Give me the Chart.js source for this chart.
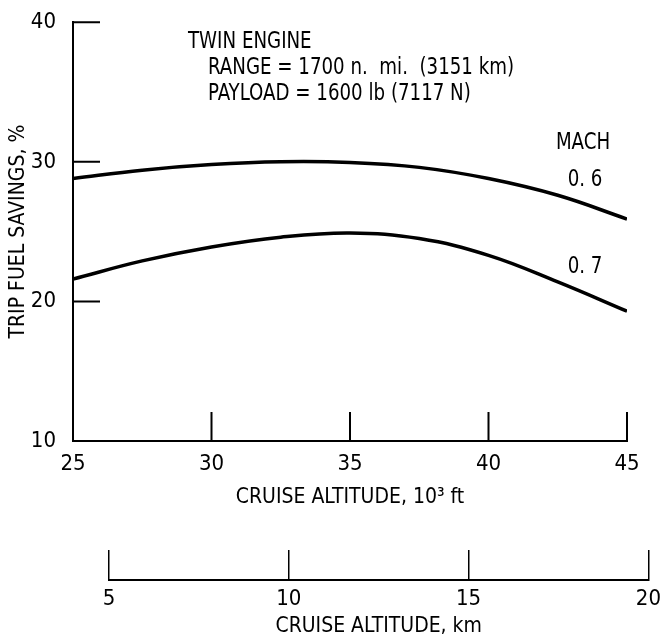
<!DOCTYPE html>
<html>
<head>
<meta charset="utf-8">
<script src="https://cdn.jsdelivr.net/npm/chart.js@4"></script>
<style>
  body { margin: 0; background: #fff; }
  #wrap { position: relative; width: 667px; height: 639px; }
  #mainBox { position: absolute; left: 0; top: 0; width: 667px; height: 530px; }
  #kmBox { position: absolute; left: 0; top: 535px; width: 667px; height: 104px; }
</style>
</head>
<body>
<div id="wrap">
  <div id="mainBox"><canvas id="mainChart"></canvas></div>
  <div id="kmBox"><canvas id="kmChart"></canvas></div>
</div>
<script>
// data
const altitudeFt = [25, 27.5, 30, 32.5, 35, 37.5, 40, 42.5, 45];
const mach06 = [28.8, 29.4, 29.8, 30.0, 29.95, 29.6, 28.8, 27.6, 25.9];
const mach07 = [21.6, 22.9, 23.9, 24.6, 24.9, 24.5, 23.3, 21.4, 19.3];
const ftTicks = [25, 30, 35, 40, 45];
const savingTicks = [10, 20, 30, 40];
const kmTicks = [5, 10, 15, 20];

const FONT = '"DejaVu Sans Condensed", "Liberation Sans Narrow", sans-serif';
Chart.defaults.font.family = FONT;
Chart.defaults.color = '#000';

const pts = (xs, ys) => xs.map((x, i) => ({ x: x, y: ys[i] }));

// draw text a bit narrower, like the condensed type of the original
function narrowText(ctx, txt, x, y, align) {
  ctx.save();
  ctx.translate(x, y);
  ctx.scale(0.88, 1);
  ctx.textAlign = align;
  ctx.fillText(txt, 0, 0);
  ctx.restore();
}

// short ticks pointing into the plot, plus the notes
const innerTicks = {
  id: 'innerTicks',
  afterDraw(chart) {
    const ctx = chart.ctx;
    const x = chart.scales.x, y = chart.scales.y;
    const area = chart.chartArea;
    ctx.save();
    ctx.strokeStyle = '#000';
    ctx.lineWidth = 2;
    ctx.beginPath();
    ftTicks.slice(1).forEach(v => {
      const px = x.getPixelForValue(v);
      ctx.moveTo(px, area.bottom);
      ctx.lineTo(px, area.bottom - 29);
    });
    savingTicks.slice(1).forEach(v => {
      const py = y.getPixelForValue(v);
      ctx.moveTo(area.left, py);
      ctx.lineTo(area.left + 27, py);
    });
    ctx.stroke();

    ctx.fillStyle = '#000';
    ctx.textBaseline = 'middle';
    ctx.font = '23px ' + FONT;
    narrowText(ctx, 'TWIN ENGINE', 188, 42, 'left');
    narrowText(ctx, 'RANGE = 1700 n.  mi.  (3151 km)', 208, 68, 'left');
    narrowText(ctx, 'PAYLOAD = 1600 lb (7117 N)', 208, 94, 'left');
    narrowText(ctx, 'MACH', 583, 143, 'center');
    narrowText(ctx, '0. 6', 585, 180, 'center');
    narrowText(ctx, '0. 7', 585, 267, 'center');
    ctx.restore();
  }
};

new Chart(document.getElementById('mainChart'), {
  type: 'line',
  data: {
    datasets: [
      { label: '0.6', data: pts(altitudeFt, mach06) },
      { label: '0.7', data: pts(altitudeFt, mach07) }
    ]
  },
  options: {
    responsive: true,
    maintainAspectRatio: false,
    animation: false,
    layout: { padding: { top: 21, right: 40, left: 0, bottom: 20 } },
    elements: {
      line: { borderColor: '#000', borderWidth: 3.5, tension: 0.4, fill: false },
      point: { radius: 0 }
    },
    plugins: { legend: { display: false }, tooltip: { enabled: false } },
    scales: {
      x: {
        type: 'linear',
        min: 25, max: 45,
        afterBuildTicks: s => { s.ticks = ftTicks.map(v => ({ value: v })); },
        afterFit: s => { s.height = 69; },
        grid: { display: false },
        border: { display: true, color: '#000', width: 2 },
        ticks: { font: { size: 22 }, padding: 2, color: '#000' },
        title: { display: true, text: 'CRUISE ALTITUDE, 10³ ft', font: { size: 21 }, padding: { top: 0, bottom: 0 }, color: '#000' }
      },
      y: {
        min: 10, max: 40,
        afterBuildTicks: s => { s.ticks = savingTicks.map(v => ({ value: v })); },
        afterFit: s => { s.width = 73; },
        grid: { display: false },
        border: { display: true, color: '#000', width: 2 },
        ticks: { font: { size: 22 }, padding: 9, color: '#000' },
        title: { display: true, text: 'TRIP FUEL SAVINGS, %', font: { size: 21 }, padding: { top: 6, bottom: 0 }, color: '#000' }
      }
    }
  },
  plugins: [innerTicks]
});

// separate kilometre scale drawn under the main plot
new Chart(document.getElementById('kmChart'), {
  type: 'line',
  data: { datasets: [{ data: [] }] },
  options: {
    responsive: true,
    maintainAspectRatio: false,
    animation: false,
    layout: { padding: { top: 15, left: 109, right: 14, bottom: 0 } },
    plugins: { legend: { display: false }, tooltip: { enabled: false } },
    scales: {
      x: {
        type: 'linear',
        min: 5, max: 20,
        afterBuildTicks: s => { s.ticks = kmTicks.map(v => ({ value: v })); },
        afterFit: s => { s.height = 59; },
        grid: { drawOnChartArea: true, drawTicks: false, color: '#000', lineWidth: 1.5 },
        border: { display: true, color: '#000', width: 2 },
        ticks: { font: { size: 22 }, padding: 6, color: '#000' },
        title: { display: true, text: 'CRUISE ALTITUDE, km', font: { size: 21 }, padding: { top: 0, bottom: 0 }, color: '#000' }
      },
      y: { display: false, min: 0, max: 1 }
    }
  }
});
</script>
</body>
</html>
